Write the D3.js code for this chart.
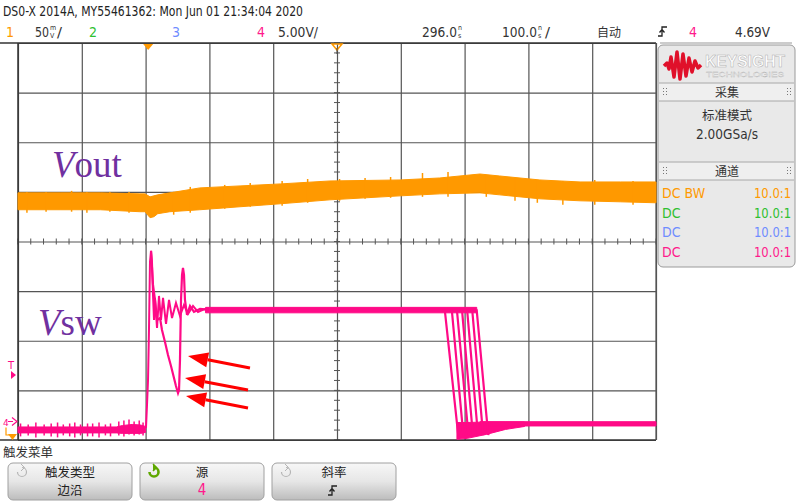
<!DOCTYPE html>
<html><head><meta charset="utf-8">
<script src="https://cdn.jsdelivr.net/npm/d3@7"></script>
<style>
html,body{margin:0;padding:0;background:#fff;}
svg{display:block;}
</style></head>
<body>
<script>
// ---------------- data ----------------
// time axis: ns relative to trigger (delay 296 ns, 100 ns/div)
const timeDomain = [-204, 796];
const gridDivX = d3.range(-5, 6);      // 10 horizontal divisions
const gridDivY = d3.range(-4, 5);      // 8 vertical divisions

// Channel 1 (Vout, 50 mV/div), envelope in mV relative to screen centre
const voutT  = [-204,-138,-75,-13,-5,3,9,15,34,81,144,207,285,395,457,520,551,614,677,740,796];
const voutHi = [49,49,49,48,48,45,46,47,49,54,56,58,61,62,64,68,66,62,60,60,60];
const voutLo = [32,32,32,30,30,24,25,28,30,32,35,38,42,46,48,49,47,43,41,40,39];
const voutSpikeT  = [-190,-160,-120,-96,-60,-30,40,66,120,160,210,250,300,340,380,430,470,530,575,610,650,700,760];
const voutSpikeHi = [50,50,51,50,50,50,50,55,57,59,61,63,63,64,65,69,70,67,64,62,61,62,61];
const voutSpikeLo = [29,30,30,29,30,29,27,29,33,35,36,39,41,43,44,45,45,45,41,39,37,37,37];

// Channel 4 (Vsw, 5 V/div), volts
const vswLowT  = [-204,-50,-40,-25,-12,-4];
const vswLowHi = [-0.55,-0.55,-0.4,-0.3,-0.35,-0.5];
const vswLowLo = [-1.15,-1.15,-1.2,-1.2,-1.2,-1.1];
const vswSpikeT  = [-200,-188,-176,-163,-152,-142,-133,-123,-115,-106,-95,-87,-77,-67,-59,-46,-38,-30,-22,-14,-8];
const vswSpikeHi = [-0.2,-0.3,-0.1,-0.3,-0.2,-0.1,-0.3,-0.2,-0.1,-0.3,-0.2,-0.2,-0.1,-0.3,-0.2,0.0,0.1,0.2,0.0,0.1,-0.1];
const vswSpikeLo = [-1.5,-1.4,-1.6,-1.4,-1.5,-1.6,-1.4,-1.5,-1.6,-1.4,-1.5,-1.5,-1.6,-1.4,-1.5,-1.4,-1.5,-1.3,-1.4,-1.3,-1.4];

const ringT = [-3.4,-1.8,-0.2,1.3,2.9,4.5,6.0,7.6,9.2,10.7,13.9,17.0,20.1,23.3,28.0,32.7,37.4,43.6,49.9,56.2,62.5,70.3,78.1,89.1,96.9];
const ringV = [-0.66,1.66,4.18,9.22,16.08,17.19,16.08,12.75,10.23,12.45,9.43,12.65,10.23,12.45,9.83,12.25,10.43,11.95,10.64,11.74,10.84,11.64,11.04,11.34,11.24];

const dipT = [4.5,7.6,10.7,13.9,18.6,21.7,26.4,31.1,35.8,40.5,43.6,46.8,48.4,49.9,51.5,53.1,54.6,56.2,57.7,60.9,65.6,71.8,81.3,96.9];
const dipV = [17.19,13.76,12.25,10.23,10.43,9.22,8.01,6.70,5.59,4.39,3.58,2.87,3.18,6.20,12.25,14.77,15.47,14.77,12.25,10.74,11.64,11.04,11.34,11.24];

const highT  = [90, 515];
const highHi = [11.5, 11.5];
const highLo = [10.95, 10.95];

const fallStart = [465, 476, 484, 492, 500, 508, 515];
const fallEnd   = [486, 494, 502, 509, 517, 525, 533];
const fallHigh = 11.2, fallUnder = -1.35, fallSettle = -0.25;

const settleT  = [484, 500, 530, 560, 590];
const settleHi = [-0.1, -0.1, -0.05, -0.05, -0.05];
const settleLo = [-1.8, -1.7, -1.3, -0.8, -0.5];
const lowRT  = [520, 796];
const lowRHi = [-0.02, -0.02];
const lowRLo = [-0.45, -0.45];

// annotation arrows (tail -> tip), in (ns, V)
const arrowTail = [[159.6,5.39],[156.5,3.18],[156.5,1.36]];
const arrowTip  = [[62.5,6.6],[57.8,4.39],[59.3,2.57]];

// header / panel text
const title = "DS0-X 2014A, MY55461362: Mon Jun 01 21:34:04 2020";
const chanColors = ["#ff9900","#2fbf2f","#6f8cff","#ff1a8c"];
const panelRows = [["DC BW","10.0:1"],["DC","10.0:1"],["DC","10.0:1"],["DC","10.0:1"]];
const buttons = [["触发类型","边沿"],["源","4"],["斜率",""]];

// ---------------- drawing ----------------
const W = 800, H = 502;
const L = 18, R = 656, T = 43, B = 440;
const svg = d3.select("body").append("svg").attr("width", W).attr("height", H);
const defs = svg.append("defs");
const grad = defs.append("linearGradient").attr("id","btn").attr("x1",0).attr("y1",0).attr("x2",0).attr("y2",1);
grad.append("stop").attr("offset","0%").attr("stop-color","#f7f7f7");
grad.append("stop").attr("offset","50%").attr("stop-color","#e6e6e6");
grad.append("stop").attr("offset","100%").attr("stop-color","#bcbcbc");

const NARROW = "'Liberation Sans Narrow','Arial Narrow','DejaVu Sans Condensed',sans-serif";
const CJK = "'Noto Sans CJK SC','Noto Sans',sans-serif";

const xDiv = d3.scaleLinear().domain([-5,5]).range([L,R]);
const yDiv = d3.scaleLinear().domain([-4,4]).range([B,T]);
const x = d3.scaleLinear().domain(timeDomain).range([L,R]);
const y1 = d3.scaleLinear().domain([0,50]).range([yDiv(0), yDiv(1)]);
const y4zero = 421.5;
const y4 = d3.scaleLinear().domain([0,5]).range([y4zero, y4zero - (yDiv(0)-yDiv(1))]);

// grid via axes
const gx = svg.append("g").attr("transform",`translate(0,${B})`)
  .call(d3.axisBottom(xDiv).tickValues(gridDivX).tickSize(-(B-T)).tickFormat(""));
const gy = svg.append("g").attr("transform",`translate(${L},0)`)
  .call(d3.axisLeft(yDiv).tickValues(gridDivY).tickSize(-(R-L)).tickFormat(""));
[gx,gy].forEach(g=>{
  g.select(".domain").remove();
  g.selectAll(".tick line").attr("stroke","#555").attr("stroke-width",1.2);
});
// minor ticks on centre lines
const minX = d3.range(-5,5.001,0.2), minY = d3.range(-4,4.001,0.2);
svg.append("g").selectAll("line").data(minX).join("line")
  .attr("x1",d=>xDiv(d)).attr("x2",d=>xDiv(d)).attr("y1",yDiv(0)-3).attr("y2",yDiv(0)+3)
  .attr("stroke","#555").attr("stroke-width",1);
svg.append("g").selectAll("line").data(minY).join("line")
  .attr("y1",d=>yDiv(d)).attr("y2",d=>yDiv(d)).attr("x1",xDiv(0)-3).attr("x2",xDiv(0)+3)
  .attr("stroke","#555").attr("stroke-width",1);
// frame
svg.append("line").attr("x1",0).attr("x2",R).attr("y1",T).attr("y2",T).attr("stroke","#333").attr("stroke-width",1.5);
svg.append("line").attr("x1",0).attr("x2",R).attr("y1",B).attr("y2",B).attr("stroke","#333").attr("stroke-width",1.5);
svg.append("line").attr("x1",L).attr("x2",L).attr("y1",T).attr("y2",B).attr("stroke","#333").attr("stroke-width",1.5);
svg.append("line").attr("x1",R).attr("x2",R).attr("y1",T).attr("y2",B).attr("stroke","#555").attr("stroke-width",1.2);
svg.append("line").attr("x1",660).attr("x2",792).attr("y1",T).attr("y2",T).attr("stroke","#bbb").attr("stroke-width",1.5);

// ---- channel 1 (orange) ----
const ORANGE = "#ff9900";
const voutData = voutT.map((t,i)=>({t,hi:voutHi[i],lo:voutLo[i]}));
svg.append("path").datum(voutData)
  .attr("d", d3.area().x(d=>x(d.t)).y0(d=>y1(d.lo)).y1(d=>y1(d.hi)))
  .attr("fill",ORANGE).attr("stroke",ORANGE).attr("stroke-width",1);
svg.append("g").selectAll("line").data(voutSpikeT.map((t,i)=>({t,hi:voutSpikeHi[i],lo:voutSpikeLo[i]})))
  .join("line").attr("x1",d=>x(d.t)).attr("x2",d=>x(d.t)).attr("y1",d=>y1(d.hi)).attr("y2",d=>y1(d.lo))
  .attr("stroke",ORANGE).attr("stroke-width",1.5);

// ---- channel 4 (pink) ----
const PINK = "#ff0a87";
const band = (ts,his,los)=>ts.map((t,i)=>({t,hi:his[i],lo:los[i]}));
const areaG = d3.area().x(d=>x(d.t)).y0(d=>y4(d.lo)).y1(d=>y4(d.hi));
const lineG = d3.line().x(d=>x(d.t)).y(d=>y4(d.v));
[band(vswLowT,vswLowHi,vswLowLo), band(highT,highHi,highLo), band(settleT,settleHi,settleLo), band(lowRT,lowRHi,lowRLo)]
  .forEach(b=>svg.append("path").datum(b).attr("d",areaG).attr("fill",PINK).attr("stroke",PINK).attr("stroke-width",1));
svg.append("g").selectAll("line").data(vswSpikeT.map((t,i)=>({t,hi:vswSpikeHi[i],lo:vswSpikeLo[i]})))
  .join("line").attr("x1",d=>x(d.t)).attr("x2",d=>x(d.t)).attr("y1",d=>y4(d.hi)).attr("y2",d=>y4(d.lo))
  .attr("stroke",PINK).attr("stroke-width",1.5);
svg.append("path").datum(ringT.map((t,i)=>({t,v:ringV[i]})))
  .attr("d",lineG).attr("fill","none").attr("stroke",PINK).attr("stroke-width",2);
svg.append("path").datum(dipT.map((t,i)=>({t,v:dipV[i]})))
  .attr("d",lineG).attr("fill","none").attr("stroke",PINK).attr("stroke-width",2.2);
fallStart.forEach((ts,i)=>{
  const pts = [{t:ts-4,v:fallHigh},{t:ts,v:fallHigh},{t:fallEnd[i],v:fallUnder},{t:fallEnd[i]+6,v:fallSettle}];
  svg.append("path").datum(pts).attr("d",lineG).attr("fill","none").attr("stroke",PINK).attr("stroke-width",2.2);
});

// ---- arrows ----
arrowTail.forEach((tl,i)=>{
  const x0=x(tl[0]), y0=y4(tl[1]), x1=x(arrowTip[i][0]), y1p=y4(arrowTip[i][1]);
  const ang=Math.atan2(y1p-y0,x1-x0), len=20, hw=7.5;
  const bx=x1-len*Math.cos(ang), by=y1p-len*Math.sin(ang);
  svg.append("line").attr("x1",x0).attr("y1",y0).attr("x2",bx).attr("y2",by).attr("stroke","#ff0000").attr("stroke-width",3);
  const px=-Math.sin(ang)*hw, py=Math.cos(ang)*hw;
  svg.append("path").attr("d",`M${x1},${y1p}L${bx+px},${by+py}L${bx-px},${by-py}Z`).attr("fill","#ff0000");
});

// ---- trace labels ----
const lab = (xx,yy,sub)=>{
  const t=svg.append("text").attr("x",xx).attr("y",yy).attr("font-family","'Liberation Serif','Times New Roman',serif")
    .attr("font-size",37).attr("fill","#7030a0");
  t.append("tspan").attr("font-style","italic").text("V");
  t.append("tspan").text(sub);
};
lab(52,177,"out");
lab(38,335,"sw");

// ---- markers ----
svg.append("path").attr("d",`M${x(0)-5},${T+1}L${x(0)+5},${T+1}L${x(0)},${T+7}Z`).attr("fill",ORANGE);
const xr=x(296);
svg.append("path").attr("d",`M${xr-5},${T+1}L${xr+5},${T+1}L${xr},${T+7}Z`).attr("fill","none").attr("stroke",ORANGE).attr("stroke-width",1.5);
svg.append("line").attr("x1",xr).attr("x2",xr).attr("y1",T+5).attr("y2",T+11).attr("stroke","#444").attr("stroke-width",1);
svg.append("text").attr("x",8).attr("y",369).attr("font-family","DejaVu Sans").attr("font-size",10).attr("fill",PINK).text("T");
svg.append("path").attr("d",`M11,${y4(4.69)-4}L16,${y4(4.69)}L11,${y4(4.69)+4}Z`).attr("fill",PINK);
svg.append("text").attr("x",3).attr("y",y4zero+4).attr("font-family","DejaVu Sans").attr("font-size",9).attr("fill",PINK).text("4");
svg.append("path").attr("d",`M8,${y4zero}L13,${y4zero}M12,${y4zero-4}L17,${y4zero}L12,${y4zero+4}`).attr("fill","none").attr("stroke",PINK).attr("stroke-width",1.2);
svg.append("path").attr("d",`M6,${y4zero+6}L6,${B-5}L13,${B-5}`).attr("fill","none").attr("stroke",ORANGE).attr("stroke-width",1.2);
svg.append("path").attr("d",`M8,${B-6}L17,${B-6}L12.5,${B}Z`).attr("fill",ORANGE);

// ---- header ----
svg.append("text").attr("x",3).attr("y",16).attr("font-family",NARROW).attr("font-size",14).attr("fill","#222")
  .attr("textLength",300).attr("lengthAdjust","spacingAndGlyphs").text(title);
const ht=(xx,txt,col,tl,fam)=>{const t=svg.append("text").attr("x",xx).attr("y",37).attr("font-family",fam||NARROW).attr("font-size",14).attr("fill",col||"#333").text(txt); if(tl) t.attr("textLength",tl).attr("lengthAdjust","spacingAndGlyphs"); return t;};
// stacked unit glyph (e.g. m over V): one text with two tspans
const stack=(xx,a,b)=>{
  const t=svg.append("text").attr("font-family",NARROW).attr("font-size",7).attr("fill","#333");
  t.append("tspan").attr("x",xx).attr("y",30).text(a);
  t.append("tspan").attr("x",xx).attr("y",37.5).text(b);
};
ht(6,"1",chanColors[0]);
ht(35,"50",null,14); stack(50,"m","V"); ht(57,"/",null,5);
ht(89,"2",chanColors[1]);
ht(172,"3",chanColors[2]);
ht(257,"4",chanColors[3]);
ht(278,"5.00V/",null,40);
ht(422,"296.0",null,35); stack(458,"n","s");
ht(502,"100.0",null,35); stack(538,"n","s"); ht(545,"/",null,5);
svg.append("text").attr("x",597).attr("y",37).attr("font-family",CJK).attr("font-size",12).attr("fill","#333").text("自动");
svg.append("path").attr("d","M658,36L662,36L662,27L667,27M659.5,32.5L662,29.5L664.5,32.5").attr("fill","none").attr("stroke","#222").attr("stroke-width",1.3);
ht(689,"4",chanColors[3]);
ht(735,"4.69V",null,35);

// ---- right panel ----
svg.append("rect").attr("x",658).attr("y",45).attr("width",137).attr("height",222).attr("rx",5)
  .attr("fill","#e9e9e9").attr("stroke","#9a9a9a").attr("stroke-width",1);
svg.append("path").attr("d","M664,66L667,63L669,69L671,57L674,77L677,52L680,79L683,54L686,76L689,58L692,72L695,61L698,68L701,65")
  .attr("fill","none").attr("stroke","#e0102a").attr("stroke-width",3.5).attr("stroke-linejoin","round");
svg.append("text").attr("x",705).attr("y",67).attr("font-family","'Liberation Sans',Arial,sans-serif").attr("font-size",16).attr("font-weight","bold")
  .attr("fill","#fff").attr("stroke","#b0b0b0").attr("stroke-width",0.5).attr("textLength",80).attr("lengthAdjust","spacingAndGlyphs").text("KEYSIGHT");
svg.append("text").attr("x",706).attr("y",77).attr("font-family","'Liberation Sans',Arial,sans-serif").attr("font-size",8)
  .attr("fill","#fff").attr("stroke","#b0b0b0").attr("stroke-width",0.3).attr("textLength",78).attr("lengthAdjust","spacingAndGlyphs").text("TECHNOLOGIES");
const secHeader=(y0,y1s,txt)=>{
  svg.append("rect").attr("x",659).attr("y",y0).attr("width",135).attr("height",y1s-y0).attr("fill","#efefef");
  svg.append("line").attr("x1",659).attr("x2",794).attr("y1",y0).attr("y2",y0).attr("stroke","#a8a8a8");
  svg.append("line").attr("x1",659).attr("x2",794).attr("y1",y1s).attr("y2",y1s).attr("stroke","#a8a8a8");
  svg.append("text").attr("x",727).attr("y",y1s-4).attr("text-anchor","middle").attr("font-family",CJK).attr("font-size",12).attr("fill","#333").text(txt);
  [663,787].forEach(gxp=>{
    [0,1].forEach(cx=>[0,1,2].forEach(ry=>{
      svg.append("rect").attr("x",gxp+cx*3).attr("y",y0+5+ry*3).attr("width",1).attr("height",1).attr("fill","#777");
    }));
  });
};
secHeader(83,101,"采集");
svg.append("text").attr("x",727).attr("y",120).attr("text-anchor","middle").attr("font-family",CJK).attr("font-size",12.5).attr("fill","#333").text("标准模式");
svg.append("text").attr("x",727).attr("y",139).attr("text-anchor","middle").attr("font-family",NARROW).attr("font-size",14).attr("fill","#333")
  .attr("textLength",62).attr("lengthAdjust","spacingAndGlyphs").text("2.00GSa/s");
secHeader(162,180,"通道");
panelRows.forEach((r,i)=>{
  const yy=198+i*19.5;
  svg.append("text").attr("x",662).attr("y",yy).attr("font-family",NARROW).attr("font-size",14).attr("fill",chanColors[i]).text(r[0]);
  svg.append("text").attr("x",791).attr("y",yy).attr("text-anchor","end").attr("font-family",NARROW).attr("font-size",14).attr("fill",chanColors[i])
    .attr("textLength",37).attr("lengthAdjust","spacingAndGlyphs").text(r[1]);
});

// ---- bottom softkeys ----
svg.append("text").attr("x",3).attr("y",457).attr("font-family",CJK).attr("font-size",12.5).attr("fill","#333").text("触发菜单");
const bx0=[8,140,272];
buttons.forEach((b,i)=>{
  const X=bx0[i];
  svg.append("rect").attr("x",X).attr("y",463).attr("width",124).attr("height",37).attr("rx",5)
    .attr("fill","url(#btn)").attr("stroke","#a0a0a0");
  svg.append("text").attr("x",X+62).attr("y",477).attr("text-anchor","middle").attr("font-family",CJK).attr("font-size",12.5).attr("fill","#222").text(b[0]);
  if(b[1]) svg.append("text").attr("x",X+62).attr("y",495).attr("text-anchor","middle")
    .attr("font-family",i===1?NARROW:CJK).attr("font-size",i===1?15:12.5).attr("fill",i===1?chanColors[3]:"#222").text(b[1]);
  const cx=X+14, cy=472, active=i===1;
  svg.append("path").attr("d",`M${cx-4.5},${cy}A4.5,4.5 0 1 0 ${cx},${cy-4.5}`).attr("fill","none")
    .attr("stroke",active?"#5fa800":"#b5b5b5").attr("stroke-width",active?2.6:1.2);
  svg.append("path").attr("d",`M${cx-1},${cy-8}L${cx+2.5},${cy-4.5}L${cx-1},${cy-1}`).attr("fill",active?"#5fa800":"none")
    .attr("stroke",active?"#5fa800":"#b5b5b5").attr("stroke-width",active?1.5:1);
});
svg.append("path").attr("d","M328,495L332,495L332,486L337,486M329.5,491.5L332,488.5L334.5,491.5").attr("fill","none").attr("stroke","#222").attr("stroke-width",1.3);
</script>
</body></html>
